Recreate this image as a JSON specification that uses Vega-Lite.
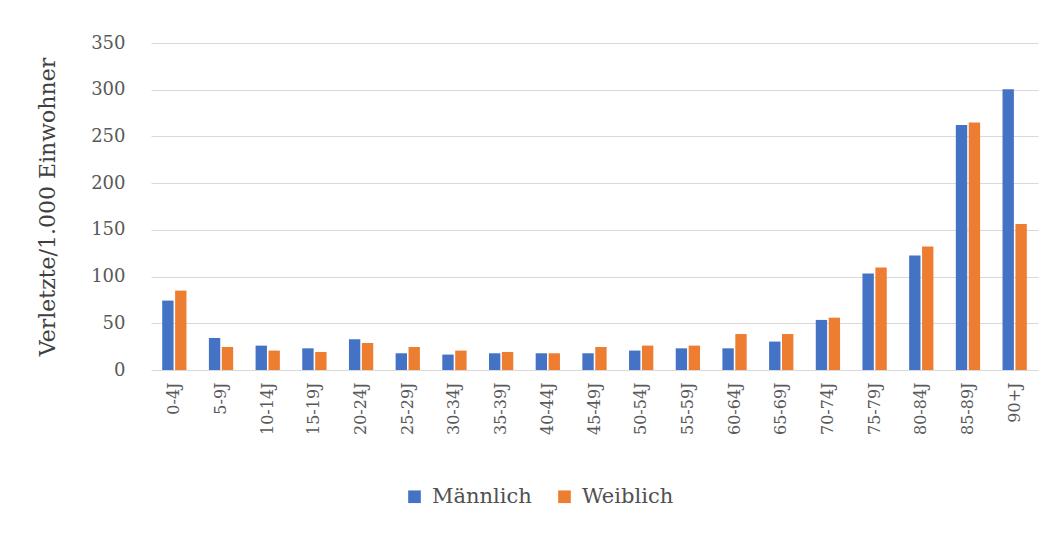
{
  "$schema": "https://vega.github.io/schema/vega-lite/v6.json",
  "autosize": {"type": "none"},
  "padding": {"left": 151, "top": 43, "right": 16, "bottom": 166},
  "width": 887,
  "height": 327,
  "background": "white",
  "data": {
    "values": [
      {"a": "0-4J", "g": "Männlich", "v": 74.3}, {"a": "0-4J", "g": "Weiblich", "v": 85},
      {"a": "5-9J", "g": "Männlich", "v": 34.3}, {"a": "5-9J", "g": "Weiblich", "v": 24.6},
      {"a": "10-14J", "g": "Männlich", "v": 26.1}, {"a": "10-14J", "g": "Weiblich", "v": 20.8},
      {"a": "15-19J", "g": "Männlich", "v": 23.2}, {"a": "15-19J", "g": "Weiblich", "v": 19.3},
      {"a": "20-24J", "g": "Männlich", "v": 32.9}, {"a": "20-24J", "g": "Weiblich", "v": 28.9},
      {"a": "25-29J", "g": "Männlich", "v": 17.9}, {"a": "25-29J", "g": "Weiblich", "v": 24.6},
      {"a": "30-34J", "g": "Männlich", "v": 16.5}, {"a": "30-34J", "g": "Weiblich", "v": 20.8},
      {"a": "35-39J", "g": "Männlich", "v": 17.9}, {"a": "35-39J", "g": "Weiblich", "v": 19.3},
      {"a": "40-44J", "g": "Männlich", "v": 17.9}, {"a": "40-44J", "g": "Weiblich", "v": 17.9},
      {"a": "45-49J", "g": "Männlich", "v": 17.9}, {"a": "45-49J", "g": "Weiblich", "v": 24.6},
      {"a": "50-54J", "g": "Männlich", "v": 20.8}, {"a": "50-54J", "g": "Weiblich", "v": 26.1},
      {"a": "55-59J", "g": "Männlich", "v": 23.2}, {"a": "55-59J", "g": "Weiblich", "v": 26.1},
      {"a": "60-64J", "g": "Männlich", "v": 23.2}, {"a": "60-64J", "g": "Weiblich", "v": 38.5},
      {"a": "65-69J", "g": "Männlich", "v": 30.4}, {"a": "65-69J", "g": "Weiblich", "v": 38.5},
      {"a": "70-74J", "g": "Männlich", "v": 53.6}, {"a": "70-74J", "g": "Weiblich", "v": 56},
      {"a": "75-79J", "g": "Männlich", "v": 103.2}, {"a": "75-79J", "g": "Weiblich", "v": 109.6},
      {"a": "80-84J", "g": "Männlich", "v": 122.6}, {"a": "80-84J", "g": "Weiblich", "v": 132.3},
      {"a": "85-89J", "g": "Männlich", "v": 262.3}, {"a": "85-89J", "g": "Weiblich", "v": 264.8},
      {"a": "90+J", "g": "Männlich", "v": 300.5}, {"a": "90+J", "g": "Weiblich", "v": 156.3}
    ]
  },
  "mark": {"type": "bar"},
  "encoding": {
    "x": {
      "field": "a", "type": "nominal", "sort": null,
      "scale": {"paddingInner": 0.48, "paddingOuter": 0.24},
      "axis": {
        "title": null, "labelAngle": -90, "labelAlign": "right", "labelBaseline": "middle",
        "labelPadding": 12, "ticks": false, "domain": false,
        "labelFont": "DejaVu Serif", "labelFontSize": 16, "labelColor": "#595959"
      }
    },
    "xOffset": {"field": "g", "type": "nominal", "scale": {"paddingInner": 0.12}},
    "y": {
      "field": "v", "type": "quantitative",
      "scale": {"domain": [0, 350]},
      "axis": {
        "title": "Verletzte/1.000 Einwohner", "values": [0, 50, 100, 150, 200, 250, 300, 350],
        "ticks": false, "domain": false, "labelPadding": 26,
        "labelFont": "DejaVu Serif", "labelFontSize": 18, "labelColor": "#595959",
        "titleFont": "DejaVu Serif", "titleFontSize": 22, "titleFontWeight": "normal",
        "titleColor": "#404040", "titlePadding": 31,
        "gridColor": "#d9d9d9", "gridWidth": 1
      }
    },
    "color": {
      "field": "g", "type": "nominal",
      "scale": {"domain": ["Männlich", "Weiblich"], "range": ["#4472C4", "#ED7D31"]},
      "legend": {
        "title": null, "orient": "none", "direction": "horizontal",
        "legendX": 253, "legendY": 443,
        "symbolType": "square", "symbolSize": 160, "symbolStrokeWidth": 0,
        "labelFont": "DejaVu Serif", "labelFontSize": 21, "labelColor": "#505050",
        "columnPadding": 22, "labelOffset": 7
      }
    }
  },
  "config": {"view": {"stroke": null}}
}
